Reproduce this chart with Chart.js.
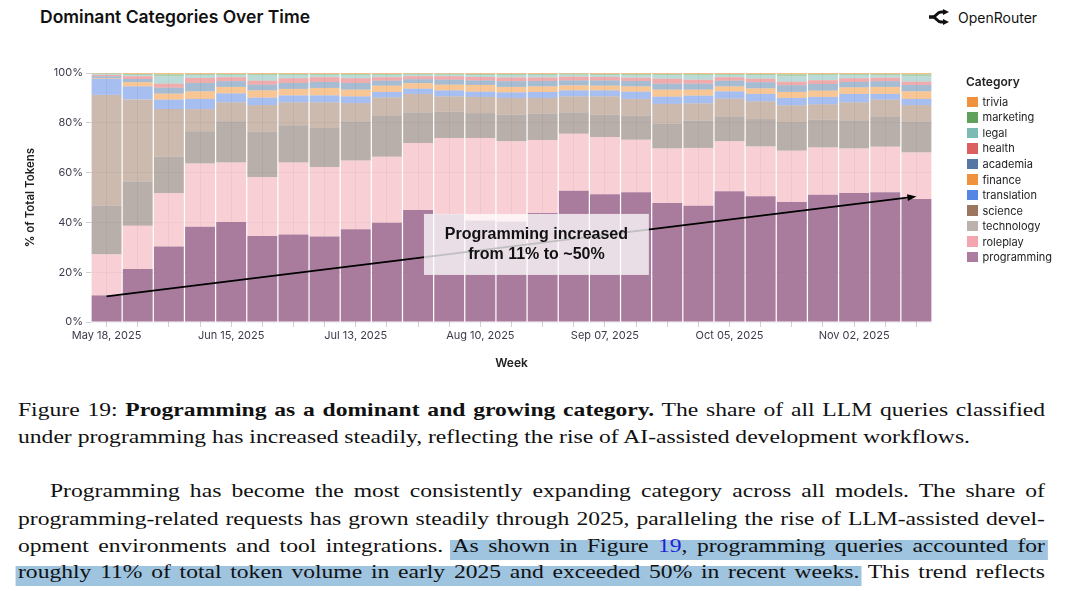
<!DOCTYPE html>
<html><head><meta charset="utf-8">
<script src="https://cdn.jsdelivr.net/npm/chart.js@4.4.1/dist/chart.umd.min.js"></script>
<style>
html,body{margin:0;padding:0;background:#fff;width:1080px;height:591px;overflow:hidden;}
#wrap{position:relative;width:1080px;height:591px;}
#title{position:absolute;left:40px;top:7px;font:600 17.5px Inter,sans-serif;line-height:20px;color:#111;white-space:nowrap;}
#brand{position:absolute;left:928px;top:7px;height:20px;display:flex;align-items:center;font:400 14px Inter,sans-serif;color:#111;white-space:nowrap;}
#brand svg{margin-right:8px;}
#chart{position:absolute;left:0;top:0;}
#legend{position:absolute;left:966px;top:73px;font-family:Inter,sans-serif;color:#222;}
#legend .lt{font-weight:600;font-size:12px;line-height:17px;margin-bottom:4px;}
#legend .it{display:flex;align-items:center;height:15.56px;font-size:11px;white-space:nowrap;}
#legend .sw{width:10.5px;height:10.5px;margin-left:1px;margin-right:5px;}
.tl{position:absolute;left:18px;width:1027px;font:19.5px "Liberation Serif",serif;line-height:26px;color:#111;text-align:justify;text-align-last:justify;transform-origin:0 0;}
.nj{text-align:left;text-align-last:left;white-space:nowrap;width:auto;}
.hl{background:linear-gradient(to bottom,transparent 5.5px,#9fc4e0 5.5px);padding:0 2px 3.5px 2px;margin:0 -2px;}
.lnk{color:#1f1fd6;}
</style>
</head><body>
<div id="wrap">
<div id="title">Dominant Categories Over Time</div>
<div id="brand"><svg width="22" height="16" viewBox="0 0 22 16"><path d="M1 8 L5 8 C8 8 9 3 13 3 L16 3" fill="none" stroke="#111" stroke-width="2.8"/><path d="M1 8 L5 8 C8 8 9 13 13 13 L16 13" fill="none" stroke="#111" stroke-width="2.8"/><path d="M15 0 L21 3 L15 6 Z" fill="#111"/><path d="M15 10 L21 13 L15 16 Z" fill="#111"/></svg>OpenRouter</div>
<canvas id="chart" width="1080" height="380"></canvas>
<div id="legend"></div>

<div class="tl" id="c1" style="top:397px">Figure 19: <b>Programming as a dominant and growing category.</b> The share of all LLM queries classified</div>
<div class="tl nj" id="c2" style="top:424px">under programming has increased steadily, reflecting the rise of AI-assisted development workflows.</div>
<div class="tl" data-indent="32" style="top:478px">Programming has become the most consistently expanding category across all models. The share of</div>
<div class="tl" style="top:506px">programming-related requests has grown steadily through 2025, paralleling the rise of LLM-assisted devel-</div>
<div class="tl" style="top:533px">opment environments and tool integrations. <span class="hl">As shown in Figure <span class="lnk">19</span>, programming queries accounted for</span></div>
<div class="tl" style="top:559px"><span class="hl">roughly 11% of total token volume in early 2025 and exceeded 50% in recent weeks.</span> This trend reflects</div>
</div>
<script>
// ---------- data ----------
const weeks = ['May 18, 2025','May 25, 2025','Jun 01, 2025','Jun 08, 2025','Jun 15, 2025','Jun 22, 2025','Jun 29, 2025',
  'Jul 06, 2025','Jul 13, 2025','Jul 20, 2025','Jul 27, 2025','Aug 03, 2025','Aug 10, 2025','Aug 17, 2025','Aug 24, 2025',
  'Aug 31, 2025','Sep 07, 2025','Sep 14, 2025','Sep 21, 2025','Sep 28, 2025','Oct 05, 2025','Oct 12, 2025','Oct 19, 2025',
  'Oct 26, 2025','Nov 02, 2025','Nov 09, 2025','Nov 16, 2025'];
const programming = [10.7,21.3,30.3,38.3,40.2,34.5,35.1,34.3,37.2,39.9,45.0,43.3,40.8,40.4,43.8,52.7,51.3,52.1,47.8,46.7,52.5,50.5,48.2,51.1,51.8,52.1,49.4];
const roleplay    = [16.5,17.4,21.5,25.4,23.9,23.7,29.0,27.9,27.7,26.5,26.9,30.6,33.1,32.2,29.3,22.9,23.0,21.1,21.9,23.2,20.1,20.0,20.6,19.0,17.9,18.3,18.7];
const technology  = [19.5,17.7,14.6,12.9,16.5,18.2,14.9,15.7,15.6,16.5,12.3,10.6,10.0,10.7,10.6,8.6,9.0,9.7,10.0,11.0,10.0,11.0,11.5,11.2,11.3,12.2,12.4];
const science     = [44.5,33.0,19.1,8.9,7.6,10.7,9.2,10.3,7.4,7.3,7.4,6.1,6.5,6.7,6.3,6.4,7.3,6.7,7.9,6.9,7.1,7.1,6.7,6.1,7.2,6.7,6.6];
const translation = [6.5,5.2,3.8,4.1,3.6,3.0,2.8,2.8,2.7,2.2,2.1,2.4,2.1,2.2,2.4,2.4,2.4,2.9,2.9,3.1,2.9,3.0,3.0,3.0,3.4,2.3,2.5];
const finance     = [0.3,1.7,2.4,3.0,2.6,2.9,2.6,3.0,2.7,2.5,2.2,2.3,2.7,2.2,2.2,2.0,1.9,2.1,2.8,2.4,2.0,2.2,2.4,2.5,2.6,2.8,3.0];
const academia    = [0.7,1.3,2.4,3.4,2.3,2.3,2.4,2.4,2.7,2.0,1.6,2.0,1.8,2.3,2.2,2.0,2.1,2.2,2.4,2.4,2.3,2.5,2.7,2.7,2.2,2.3,2.6];
const health      = [0.5,1.1,1.6,2.0,1.6,1.6,1.9,1.9,1.9,1.4,1.2,1.4,1.4,1.5,1.4,1.5,1.4,1.3,2.0,1.6,1.4,1.4,1.4,1.5,1.5,1.4,1.3];
const legal       = [0.3,0.5,3.0,1.1,0.9,2.1,1.2,0.9,1.2,0.9,0.6,0.6,0.8,1.0,1.0,0.8,0.8,1.0,1.4,1.7,0.9,1.3,2.2,1.9,1.2,1.0,2.2];
const marketing   = [0.3,0.4,0.8,0.5,0.4,0.6,0.5,0.4,0.5,0.4,0.4,0.4,0.4,0.4,0.4,0.4,0.4,0.5,0.5,0.6,0.4,0.6,0.8,0.6,0.5,0.5,0.8];
const trivia      = [0.2,0.4,0.5,0.4,0.4,0.4,0.4,0.4,0.4,0.4,0.3,0.3,0.4,0.4,0.4,0.3,0.4,0.4,0.4,0.4,0.4,0.4,0.5,0.4,0.4,0.4,0.5];
const yTicks = [0,20,40,60,80,100];

// stacking order bottom -> top
const series = [
  {name:'programming', data:programming, fill:'rgba(160,110,148,0.9)', key:'#ae7ba0'},
  {name:'roleplay',    data:roleplay,    fill:'rgba(240,160,170,0.5)', key:'#f4a6ae'},
  {name:'technology',  data:technology,  fill:'rgba(137,122,113,0.6)', key:'#bbb1ad'},
  {name:'science',     data:science,     fill:'rgba(156,117,95,0.5)',  key:'#9c765f'},
  {name:'translation', data:translation, fill:'rgba(78,125,225,0.5)',  key:'#5686e3'},
  {name:'finance',     data:finance,     fill:'rgba(242,142,43,0.5)',  key:'#f0913e'},
  {name:'academia',    data:academia,    fill:'rgba(78,121,167,0.5)',  key:'#5577a3'},
  {name:'health',      data:health,      fill:'rgba(225,87,89,0.5)',   key:'#dd5e5e'},
  {name:'legal',       data:legal,       fill:'rgba(118,183,178,0.5)', key:'#7dbab4'},
  {name:'marketing',   data:marketing,   fill:'rgba(89,161,79,0.5)',   key:'#5fa05a'},
  {name:'trivia',      data:trivia,      fill:'rgba(242,142,43,0.5)',  key:'#f0913e'}
];

const note = {
  from:{index:0, value:10.3}, to:{index:26, value:50.4},
  box:{xMin:10.19, xMax:17.41, yMin:18.9, yMax:43.4},
  lines:['Programming increased','from 11% to ~50%']
};

// legend (top -> bottom)
const lg = document.getElementById('legend');
lg.innerHTML = '<div class="lt">Category</div>' + series.slice().reverse().map(s =>
  `<div class="it"><span class="sw" style="background:${s.key}"></span>${s.name}</div>`).join('');

const notePlugin = {
  id:'note',
  afterDatasetsDraw(chart){
    const {ctx, scales:{x, y}} = chart;
    const x1 = x.getPixelForValue(note.from.index), y1 = y.getPixelForValue(note.from.value);
    const x2 = x.getPixelForValue(note.to.index), y2 = y.getPixelForValue(note.to.value);
    ctx.save();
    ctx.strokeStyle = '#000'; ctx.fillStyle = '#000'; ctx.lineWidth = 1.6;
    const ang = Math.atan2(y2 - y1, x2 - x1), hl = 9, hw = 3.5;
    ctx.beginPath(); ctx.moveTo(x1, y1);
    ctx.lineTo(x2 - Math.cos(ang)*hl*0.8, y2 - Math.sin(ang)*hl*0.8); ctx.stroke();
    ctx.beginPath();
    ctx.moveTo(x2, y2);
    ctx.lineTo(x2 - hl*Math.cos(ang) + hw*Math.sin(ang), y2 - hl*Math.sin(ang) - hw*Math.cos(ang));
    ctx.lineTo(x2 - hl*Math.cos(ang) - hw*Math.sin(ang), y2 - hl*Math.sin(ang) + hw*Math.cos(ang));
    ctx.closePath(); ctx.fill();
    const bx1 = x.getPixelForValue(note.box.xMin), bx2 = x.getPixelForValue(note.box.xMax);
    const by1 = y.getPixelForValue(note.box.yMax), by2 = y.getPixelForValue(note.box.yMin);
    ctx.fillStyle = 'rgba(255,255,255,0.75)';
    ctx.fillRect(bx1, by1, bx2 - bx1, by2 - by1);
    ctx.fillStyle = '#111';
    ctx.font = 'bold 16px "Liberation Sans", Arial, sans-serif';
    ctx.textAlign = 'center'; ctx.textBaseline = 'middle';
    const cx = (bx1 + bx2)/2, cy = (by1 + by2)/2;
    ctx.fillText(note.lines[0], cx, cy - 10);
    ctx.fillText(note.lines[1], cx, cy + 10);
    ctx.restore();
  }
};

Chart.defaults.font.family = 'Inter, sans-serif';
Chart.defaults.color = '#3b3b4b';

new Chart(document.getElementById('chart'), {
  type:'bar',
  data:{
    labels:weeks,
    datasets:series.map(s => ({label:s.name, data:s.data, backgroundColor:s.fill, borderWidth:0,
      barPercentage:1, categoryPercentage:0.96}))
  },
  options:{
    responsive:false, animation:false, devicePixelRatio:1,
    layout:{padding:{top:73, right:148, left:0, bottom:0}},
    plugins:{legend:{display:false}, tooltip:{enabled:false}},
    scales:{
      x:{stacked:true,
        grid:{offset:false, color:'rgba(0,0,0,0.07)', tickLength:5, tickColor:'#cfcfd4'},
        border:{display:false},
        ticks:{autoSkip:false, maxRotation:0, padding:2, font:{size:11},
          callback:(v,i) => i % 4 === 0 ? weeks[i] : ''},
        title:{display:true, text:'Week', font:{size:12, weight:'600'}, color:'#222', padding:{top:0,bottom:9}},
        afterFit:s => { s.height = 58; }
      },
      y:{stacked:true, min:0, max:100,
        afterBuildTicks:s => { s.ticks = yTicks.map(v => ({value:v})); },
        grid:{color:'rgba(0,0,0,0.06)', tickLength:5, tickColor:'#cfcfd4'},
        border:{display:false},
        ticks:{padding:3, font:{size:11}, callback:v => v + '%'},
        title:{display:true, text:'% of Total Tokens', font:{size:11.5, weight:'600'}, color:'#222', padding:{top:24, bottom:0}},
        afterFit:s => { s.width = 91; }
      }
    }
  },
  plugins:[notePlugin]
});

// stretch the serif text horizontally to the reference line width
(function(){
  const c2 = document.getElementById('c2');
  const w0 = c2.getBoundingClientRect().width;
  const k = 952 / w0;
  document.querySelectorAll('.tl').forEach(el => {
    el.style.transform = 'scaleX(' + k.toFixed(4) + ')';
    if (!el.classList.contains('nj')) {
      const ind = +(el.dataset.indent || 0);
      el.style.paddingLeft = (ind / k) + 'px';
      el.style.width = ((1027 - ind) / k) + 'px';
    }
  });
})();
</script>
</body></html>
